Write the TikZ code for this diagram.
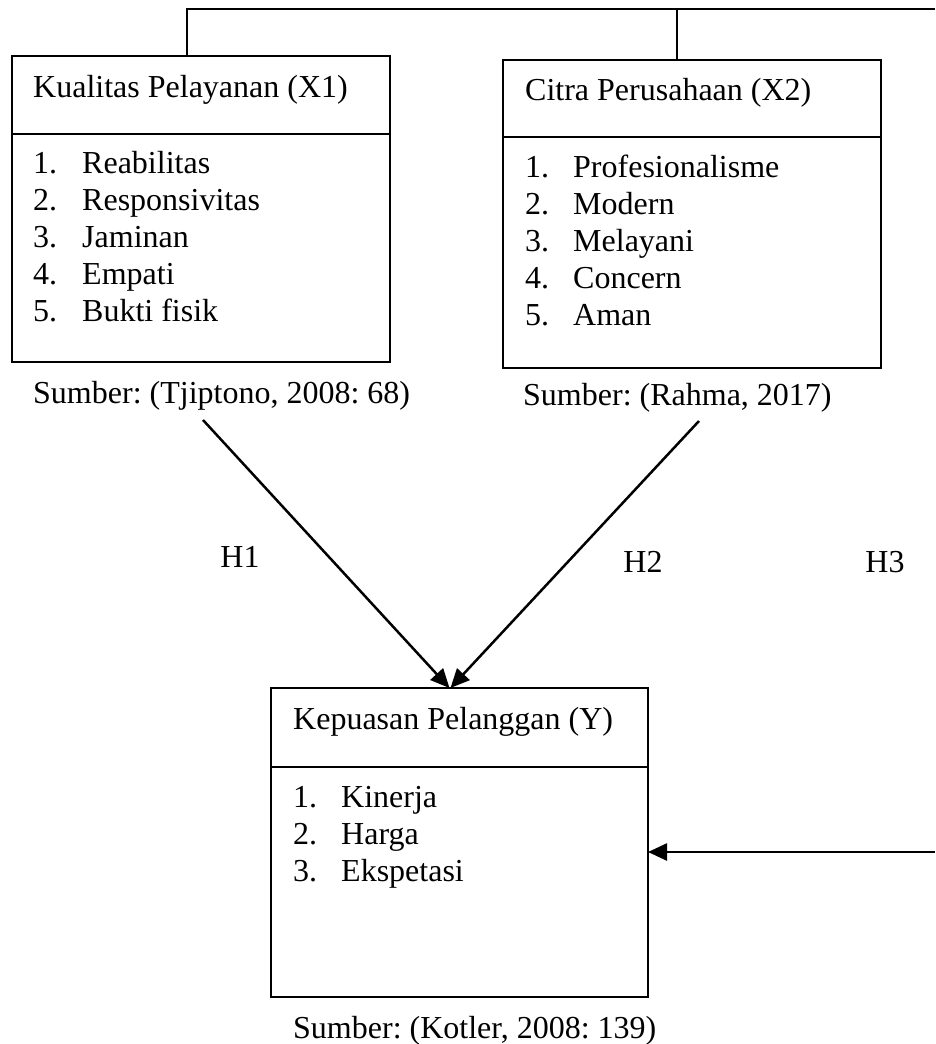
\documentclass[tikz,border=0pt]{standalone}
\usepackage{fontspec}
\setmainfont{Liberation Serif}
\frenchspacing
\usetikzlibrary{arrows.meta}
\tikzset{
  box/.style={draw, line width=2.5pt, inner sep=0pt, outer sep=0pt, anchor=north west},
  txt/.style={inner sep=0pt, anchor=base west, font=\fontsize{32}{37}\selectfont},
  hlabel/.style={txt, anchor=base},
  link/.style={line width=2.5pt},
  arr/.style={line width=2.5pt, -{Triangle[length=19pt,width=17pt]}}
}
\begin{document}
\begin{tikzpicture}[x=1pt,y=-1pt]
  \useasboundingbox (0,0) rectangle (935,1044);
  % boxes
  \node[box, minimum width=378pt, minimum height=78pt] (x1head) at (12,56) {};
  \node[box, minimum width=378pt, minimum height=228pt] (x1body) at (x1head.south west) {};
  \node[box, minimum width=378pt, minimum height=77pt] (x2head) at (503,60) {};
  \node[box, minimum width=378pt, minimum height=231pt] (x2body) at (x2head.south west) {};
  \node[box, minimum width=377pt, minimum height=79pt] (yhead) at (271,688) {};
  \node[box, minimum width=377pt, minimum height=230pt] (ybody) at (yhead.south west) {};
  % titles
  \node[txt] (x1title) at (33,97) {Kualitas Pelayanan (X1)};
  \node[txt] (x2title) at (525,100) {Citra Perusahaan (X2)};
  \node[txt] (ytitle) at (293,729) {Kepuasan Pelanggan (Y)};
  % indicators
  \foreach \item [count=\i] in {Reabilitas,Responsivitas,Jaminan,Empati,Bukti fisik} {
    \node[txt] (x1num\i) at (33,{173+37*(\i-1)}) {\i.};
    \node[txt] (x1ind\i) at (82,{173+37*(\i-1)}) {\item};
  }
  \foreach \item [count=\i] in {Profesionalisme,Modern,Melayani,Concern,Aman} {
    \node[txt] (x2num\i) at (525,{177+37*(\i-1)}) {\i.};
    \node[txt] (x2ind\i) at (573,{177+37*(\i-1)}) {\item};
  }
  \foreach \item [count=\i] in {Kinerja,Harga,Ekspetasi} {
    \node[txt] (ynum\i) at (293,{807+37*(\i-1)}) {\i.};
    \node[txt] (yind\i) at (341,{807+37*(\i-1)}) {\item};
  }
  % sources
  \node[txt] (x1src) at (33,403) {Sumber: (Tjiptono, 2008: 68)};
  \node[txt] (x2src) at (523,405) {Sumber: (Rahma, 2017)};
  \node[txt] (ysrc) at (293,1038) {Sumber: (Kotler, 2008: 139)};
  % hypotheses
  \node[hlabel] (h1) at (240,567) {H1};
  \node[hlabel] (h2) at (643,572) {H2};
  \node[hlabel] (h3) at (885,572) {H3};
  % connectors
  \coordinate (topR) at (935,9);
  \coordinate (sideR) at (935,852);
  \coordinate (h1start) at (203,420);
  \coordinate (h2start) at (699,421);
  \draw[link] ([xshift=-14pt]x1head.north) |- (topR);
  \draw[link] ([xshift=-15pt]x2head.north) -- ([xshift=-15pt]x2head.north |- topR);
  \draw[arr] (h1start) to ([xshift=-10pt]yhead.north);
  \draw[arr] (h2start) to ([xshift=-9pt]yhead.north);
  \draw[arr] (sideR) to (sideR -| ybody.east);
\end{tikzpicture}
\end{document}
